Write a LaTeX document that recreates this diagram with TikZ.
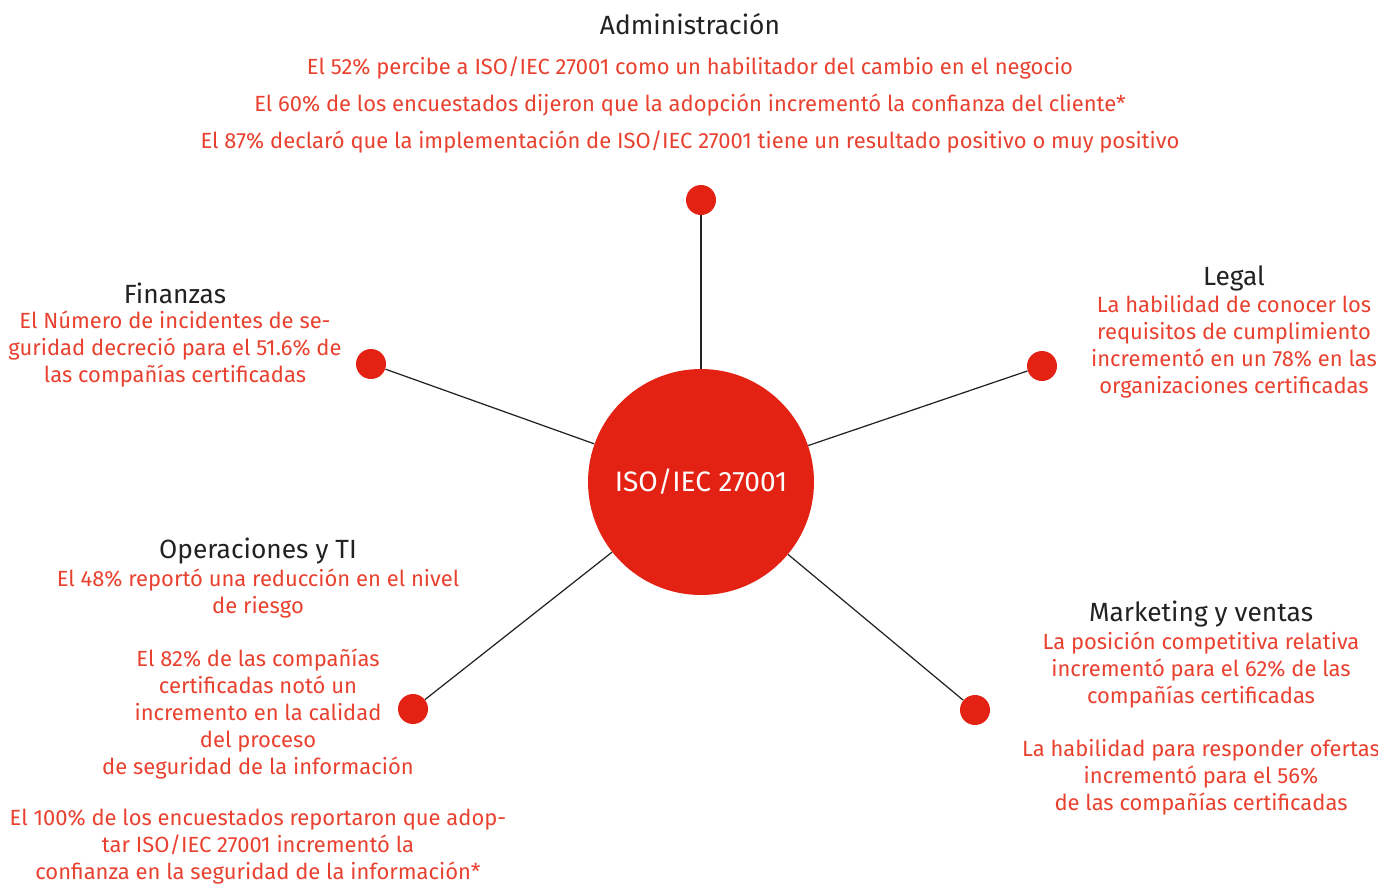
\documentclass[tikz,border=0pt]{standalone}
\usepackage{fontspec}
\setmainfont{Fira Sans}
\usepackage{xcolor}
\usepackage{tikz}
\usetikzlibrary{positioning,calc}
\definecolor{isored}{HTML}{E32213}
\definecolor{txtred}{HTML}{E8412F}
\definecolor{titlegray}{HTML}{222222}

\begin{document}
\begin{tikzpicture}[
    x=0.02cm, y=-0.02cm,
    hub/.style={circle, fill=isored, minimum size=4.52cm, inner sep=0pt, text=white, font=\fontsize{16}{18}\selectfont},
    dot/.style={circle, fill=isored, minimum size=0.6cm, inner sep=0pt},
    area/.style={text=titlegray, font=\fontsize{15}{18}\selectfont, inner sep=0pt},
    fact/.style={text=txtred, align=center, inner sep=0pt, font=\fontsize{12.5}{15.37}\selectfont},
    spoke/.style={draw=titlegray, line width=0.7pt}
]
    \useasboundingbox (0,0) rectangle (1378,883);

    % nodes
    \node [hub] (iso) at (701,482) {ISO/IEC 27001};

    \node [dot] (adm) at (701,200) {};
    \node [dot] (fin) at (371,364) {};
    \node [dot] (leg) at (1042,366) {};
    \node [dot] (ops) at (413,709) {};
    \node [dot] (mkt) at (975,710) {};

    % texts
    \node [area] (admt) at (690,24) {Administración};
    \node [fact, anchor=north] (admf) at (690,56) {El 52\% percibe a ISO/IEC 27001 como un habilitador del cambio en el negocio\\[0.2cm]
        El 60\% de los encuestados dijeron que la adopción incrementó la confianza del cliente*\\[0.2cm]
        El 87\% declaró que la implementación de ISO/IEC 27001 tiene un resultado positivo o muy positivo};

    \node [area] (fint) at (175,293) {Finanzas};
    \node [fact, anchor=north] (finf) at (175,311) {El Número de incidentes de se-\\guridad decreció para el 51.6\% de\\las compañías certificadas};

    \node [area] (legt) at (1234,278) {Legal};
    \node [fact, anchor=north] (legf) at (1234,295) {La habilidad de conocer los\\requisitos de cumplimiento\\incrementó en un 78\% en las\\organizaciones certificadas};

    \node [area] (opst) at (258,551) {Operaciones y TI};
    \node [fact, anchor=north] (opsf1) at (258,569) {El 48\% reportó una reducción en el nivel\\de riesgo};
    \node [fact, anchor=north] (opsf2) at (258,649) {El 82\% de las compañías\\certificadas notó un\\incremento en la calidad\\del proceso\\de seguridad de la información};
    \node [fact, anchor=north] (opsf3) at (258,809) {El 100\% de los encuestados reportaron que adop-\\tar ISO/IEC 27001 incrementó la\\confianza en la seguridad de la información*};

    \node [area] (mktt) at (1201,614) {Marketing y ventas};
    \node [fact, anchor=north] (mktf1) at (1201,632) {La posición competitiva relativa\\incrementó para el 62\% de las\\compañías certificadas};
    \node [fact, anchor=north] (mktf2) at (1201,739) {La habilidad para responder ofertas\\incrementó para el 56\%\\de las compañías certificadas};

    % spokes
    \draw [spoke] (iso) -- (adm);
    \draw [spoke] (iso) -- (fin);
    \draw [spoke] (iso) -- (leg);
    \draw [spoke] (iso) -- (ops);
    \draw [spoke] (iso) -- (mkt);
\end{tikzpicture}
\end{document}
